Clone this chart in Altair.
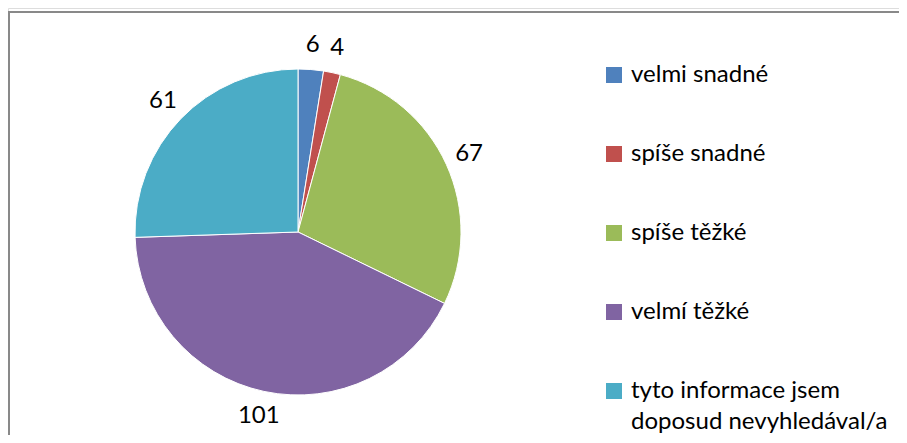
import altair as alt
import pandas as pd

categories = [
    "velmi snadné",
    "spíše snadné",
    "spíše těžké",
    "velmí těžké",
    "tyto informace jsem doposud nevyhledával/a",
]
values = [6, 4, 67, 101, 61]
colors = ["#4F81BD", "#C0504D", "#9BBB59", "#8064A2", "#4BACC6"]

df = pd.DataFrame({"kategorie": categories, "pocet": values, "poradi": list(range(len(categories)))})

FONT = "Lato"
CX, CY, R = 290, 224, 163

legend = alt.Legend(
    title=None,
    orient="none",
    legendX=594,
    legendY=55,
    symbolType="square",
    symbolSize=256,
    symbolStrokeWidth=0,
    labelFont=FONT,
    labelFontSize=24,
    labelColor="black",
    labelLimit=400,
    labelOffset=5,
    rowPadding=55,
    labelExpr="datum.label == 'tyto informace jsem doposud nevyhledával/a' ? ['tyto informace jsem', 'doposud nevyhledával/a'] : datum.label",
)

pie = alt.Chart(df).mark_arc(radius=R, stroke="white", strokeWidth=1).encode(
    theta=alt.Theta("pocet:Q", stack=True),
    order=alt.Order("poradi:Q"),
    color=alt.Color("kategorie:N", scale=alt.Scale(domain=categories, range=colors), sort=categories, legend=legend),
    x=alt.value(CX),
    y=alt.value(CY),
)

labels = alt.Chart(df).mark_text(radius=188, font=FONT, fontSize=24, color="black", align="center", baseline="middle").encode(
    theta=alt.Theta("pocet:Q", stack=True),
    order=alt.Order("poradi:Q"),
    detail="kategorie:N",
    text="pocet:Q",
    x=alt.value(CX),
    y=alt.value(CY),
)

frame_df = pd.DataFrame({"a": [0]})
frame_top = alt.Chart(frame_df).mark_rule(color="#898989", strokeWidth=2).encode(
    x=alt.value(0), x2=alt.value(891), y=alt.value(4)
)
frame_left = alt.Chart(frame_df).mark_rule(color="#898989", strokeWidth=2).encode(
    x=alt.value(1), y=alt.value(4), y2=alt.value(427)
)

chart = alt.layer(frame_top, frame_left, pie, labels).properties(
    width=891, height=427, autosize="none", padding=0, background="white"
).configure_view(stroke=None).configure(style={"guide-label": {"lineHeight": 31}})

chart.save("out.html", embed_options={"renderer": "svg", "actions": False})
